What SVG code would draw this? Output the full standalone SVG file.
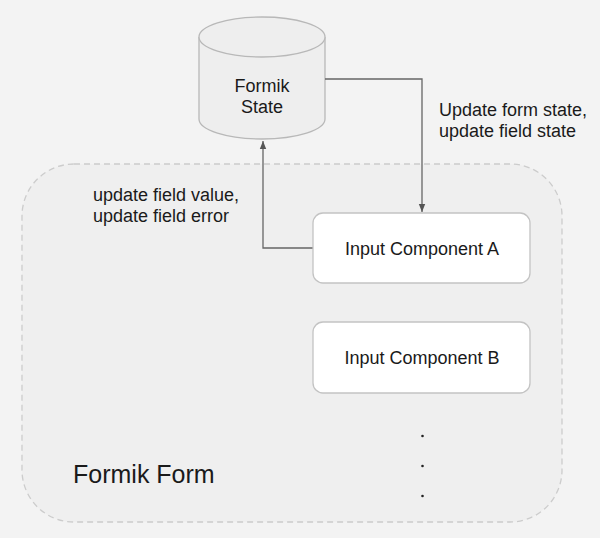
<svg xmlns="http://www.w3.org/2000/svg" width="600" height="538" viewBox="0 0 600 538">
<style>
text{font-family:"Liberation Sans",Arial,sans-serif;fill:#1a1a1a;font-size:18px}
.c{text-anchor:middle}
.box{fill:#ffffff;stroke:#c3c3c3;stroke-width:1.3}
.conn{fill:none;stroke:#666666;stroke-width:1.3}
</style>
<defs>
<marker id="ah" viewBox="0 0 10 10" refX="10" refY="5" markerWidth="8" markerHeight="8" markerUnits="userSpaceOnUse" orient="auto">
<path d="M0,1 L10,5 L0,9 Z" fill="#555555"/>
</marker>
</defs>
<rect width="600" height="538" fill="#f3f3f3"/>
<g id="formik-form">
<rect x="22" y="164" width="540" height="358" rx="52" ry="52" fill="#efefef" stroke="#cccccc" stroke-width="1.3" stroke-dasharray="6,4"/>
<text x="73" y="483" style="font-size:25px">Formik Form</text>
</g>
<g id="formik-state">
<path d="M199,37 L199,119 A63,20 0 0 0 325,119 L325,37" fill="#eeeeee" stroke="#b8b8b8" stroke-width="1.3"/>
<ellipse cx="262" cy="37" rx="63" ry="20" fill="#eeeeee" stroke="#b8b8b8" stroke-width="1.3"/>
<text class="c" x="262" y="92">Formik</text>
<text class="c" x="262" y="113">State</text>
</g>
<g id="connectors">
<path class="conn" d="M325,79 L422,79 L422,212" marker-end="url(#ah)"/>
<path class="conn" d="M313,248 L263,248 L263,141" marker-end="url(#ah)"/>
<text x="439" y="116">Update form state,</text>
<text x="439" y="137">update field state</text>
<text x="93" y="201">update field value,</text>
<text x="93" y="222">update field error</text>
</g>
<g id="input-a">
<rect class="box" x="313" y="213" width="217" height="70" rx="10"/>
<text class="c" x="422" y="255">Input Component A</text>
</g>
<g id="input-b">
<rect class="box" x="313" y="322" width="217" height="71" rx="10"/>
<text class="c" x="422" y="364">Input Component B</text>
</g>
<g id="ellipsis" fill="#222222">
<circle cx="422.5" cy="436" r="1.3"/>
<circle cx="422.5" cy="466" r="1.3"/>
<circle cx="422.5" cy="496" r="1.3"/>
</g>
</svg>
